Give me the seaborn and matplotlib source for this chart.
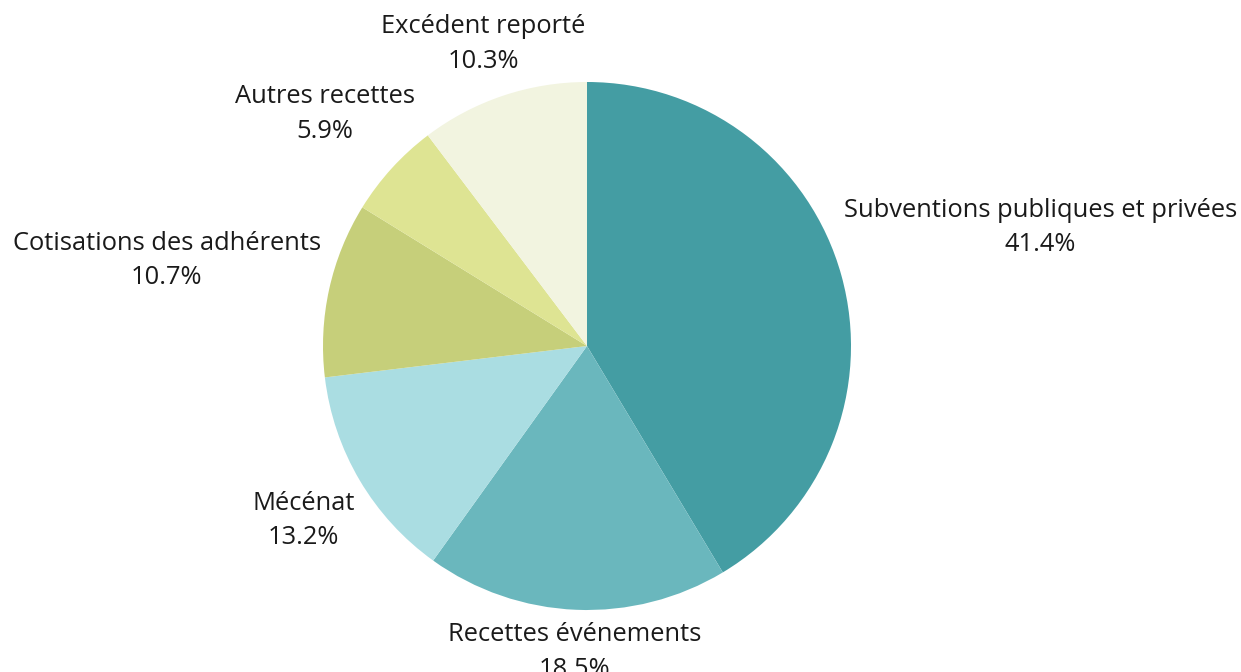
import numpy as np
import matplotlib
matplotlib.use("Agg")
import matplotlib.pyplot as plt
import seaborn as sns

categories = ["Subventions publiques et privées", "Recettes événements", "Mécénat",
              "Cotisations des adhérents", "Autres recettes", "Excédent reporté"]
shares = [41.4, 18.5, 13.2, 10.7, 5.9, 10.3]
colors = ["#449DA3", "#6AB7BD", "#AADDE2", "#C6CF7A", "#DEE493", "#F2F4E0"]

sns.set_theme(style="white")
plt.rcParams["font.family"] = ["Open Sans", "DejaVu Sans"]

W, H = 1241, 672
fig = plt.figure(figsize=(W / 100, H / 100), dpi=100)
ax = fig.add_axes([0, 0, 1, 1])

# pie centre (587, 346) px, radius 264 px
scale = 264.0

wedges, _ = ax.pie(shares, colors=colors, startangle=90, counterclock=False,
                   radius=1, center=(0, 0), frame=True,
                   wedgeprops=dict(linewidth=0))
ax.set_xlim(-587 / scale, (W - 587) / scale)
ax.set_ylim(-(H - 346) / scale, 346 / scale)
ax.axis("off")

fig.canvas.draw()
renderer = fig.canvas.get_renderer()
gap = 1.045  # label box clears the pie by this radius
hh = 0.07    # half height of a two-line label
dy = -0.026

for w, cat, val in zip(wedges, categories, shares):
    ang = np.deg2rad((w.theta1 + w.theta2) / 2)
    ux, uy = np.cos(ang), np.sin(ang)
    t = ax.text(0, 0, f"{cat}\n{val}%", ha="center", va="center",
                fontsize=18.4, color="#1a1a1a", linespacing=1.5)
    bb = t.get_window_extent(renderer)
    hw = bb.width / 2 / scale
    d = gap + abs(ux) * hw + abs(uy) * hh
    t.set_position((ux * d, uy * d + dy))

fig.savefig("out.png", dpi=100)
